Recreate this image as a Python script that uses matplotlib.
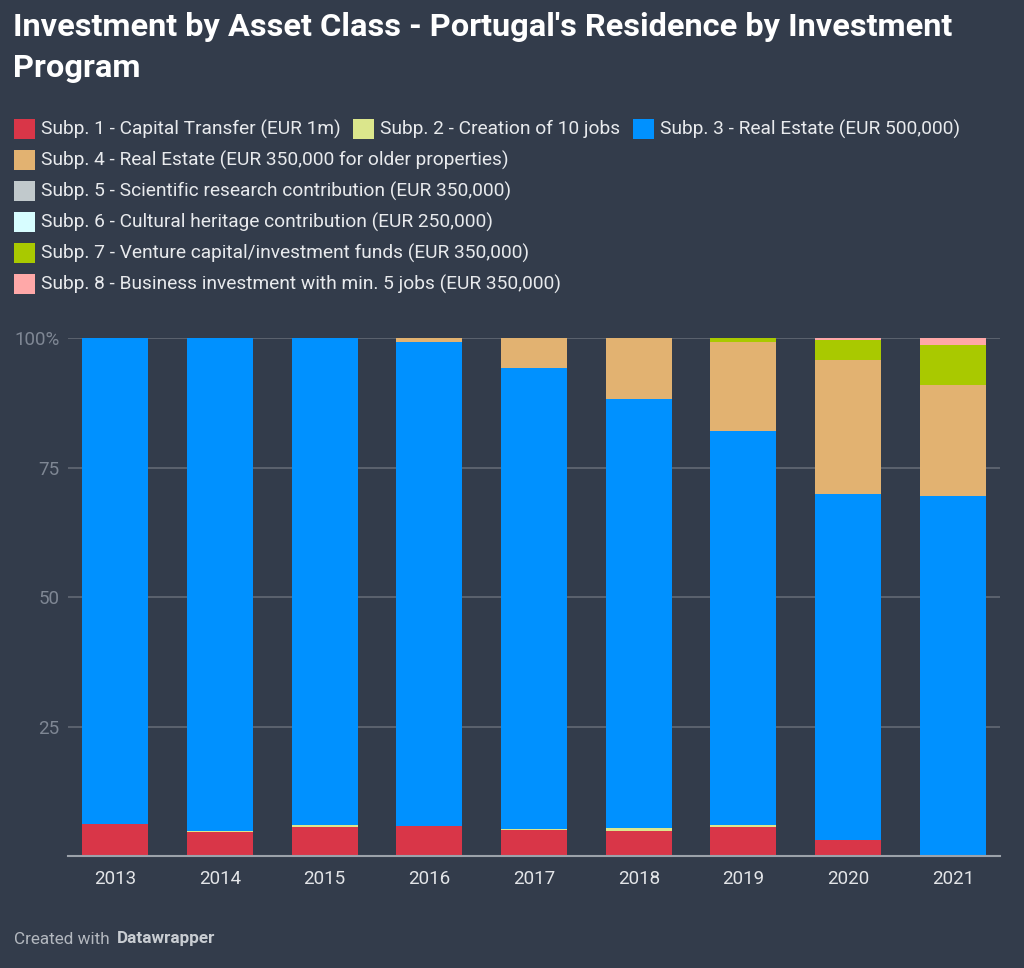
import matplotlib
matplotlib.use("Agg")
import matplotlib.pyplot as plt
from matplotlib.patches import Rectangle
import numpy as np

plt.rcParams['font.family'] = ['Roboto', 'DejaVu Sans']

years = ["2013", "2014", "2015", "2016", "2017", "2018", "2019", "2020", "2021"]
series_names = [
    "Subp. 1 - Capital Transfer (EUR 1m)",
    "Subp. 2 - Creation of 10 jobs",
    "Subp. 3 - Real Estate (EUR 500,000)",
    "Subp. 4 - Real Estate (EUR 350,000 for older properties)",
    "Subp. 5 - Scientific research contribution (EUR 350,000)",
    "Subp. 6 - Cultural heritage contribution (EUR 250,000)",
    "Subp. 7 - Venture capital/investment funds (EUR 350,000)",
    "Subp. 8 - Business investment with min. 5 jobs (EUR 350,000)",
]
colors = ["#d93648", "#dbe68c", "#0091ff", "#e2b271", "#c1c9cc", "#d7fdff", "#a9c900", "#ffa8a8"]

subp1 = [6.2, 4.6, 5.6, 5.8, 5.1, 4.8, 5.6, 3.1, 0.0]
subp2 = [0.0, 0.3, 0.4, 0.0, 0.2, 0.6, 0.4, 0.0, 0.0]
subp3 = [93.8, 95.1, 94.0, 93.4, 89.0, 82.8, 76.0, 66.8, 69.5]
subp4 = [0.0, 0.0, 0.0, 0.8, 5.7, 11.8, 17.2, 25.9, 21.4]
subp5 = [0.0, 0.0, 0.0, 0.0, 0.0, 0.0, 0.0, 0.0, 0.0]
subp6 = [0.0, 0.0, 0.0, 0.0, 0.0, 0.0, 0.0, 0.0, 0.0]
subp7 = [0.0, 0.0, 0.0, 0.0, 0.0, 0.0, 0.8, 3.9, 7.7]
subp8 = [0.0, 0.0, 0.0, 0.0, 0.0, 0.0, 0.0, 0.3, 1.4]
series = [subp1, subp2, subp3, subp4, subp5, subp6, subp7, subp8]

yticks = [0, 25, 50, 75, 100]
ytick_labels = ["", "25", "50", "75", "100%"]

BG = "#333c4b"
W, H = 1024, 968
fig = plt.figure(figsize=(W / 100, H / 100), dpi=100, facecolor=BG)

def fx(px):
    return px / W

def fy(py):
    return 1 - py / H

# Title
fig.text(fx(13), fy(27), "Investment by Asset Class - Portugal's Residence by Investment",
         color="white", fontsize=23.4, fontweight="bold", va="center", ha="left")
fig.text(fx(13), fy(68), "Program", color="white", fontsize=23.4, fontweight="bold",
         va="center", ha="left")

# Legend
legend_pos = [(14, 129), (353, 129), (633, 129), (14, 160), (14, 191), (14, 222), (14, 253), (14, 284)]
for (x, y), name, c in zip(legend_pos, series_names, colors):
    fig.patches.append(Rectangle((fx(x), fy(y + 10)), 21 / W, 20 / H, transform=fig.transFigure,
                                 facecolor=c, edgecolor="none"))
    fig.text(fx(x + 27), fy(y), name, color="#e8eaed", fontsize=13.8, va="center", ha="left")

# Axes
ax = fig.add_axes([fx(68), fy(856), (1000 - 68) / W, (856 - 338) / H])
ax.set_facecolor(BG)
x = np.arange(len(years))
bottom = np.zeros(len(years))
for vals, c in zip(series, colors):
    v = np.array(vals)
    ax.bar(x, v, bottom=bottom, width=0.63, color=c, edgecolor="none", zorder=3)
    bottom += v

ax.set_xlim(-0.45, len(years) - 0.55)
ax.set_ylim(0, 100)
ax.set_yticks(yticks)
ax.set_yticklabels(ytick_labels)
ax.set_xticks(x)
ax.set_xticklabels(years)
for s in ["top", "right", "left"]:
    ax.spines[s].set_visible(False)
ax.spines["bottom"].set_color("#9ca2aa")
ax.spines["bottom"].set_linewidth(1.5)
ax.spines["bottom"].set_zorder(4)
ax.grid(axis="y", color="#626975", linewidth=1.2, zorder=0)
ax.tick_params(axis="y", length=0, labelsize=13.5, labelcolor="#7f8794", pad=6)
ax.tick_params(axis="x", length=0, labelsize=13.5, labelcolor="#e3e5e8", pad=10)
for lbl in ax.get_yticklabels():
    lbl.set_horizontalalignment("right")

# Footer
fig.text(fx(14), fy(939), "Created with", color="#b3b8bf", fontsize=12.3, va="center", ha="left")
fig.text(fx(117), fy(939), "Datawrapper", color="#c9cdd2", fontsize=12.3, fontweight="bold",
         va="center", ha="left")

fig.savefig("out.png", dpi=100, facecolor=BG)
